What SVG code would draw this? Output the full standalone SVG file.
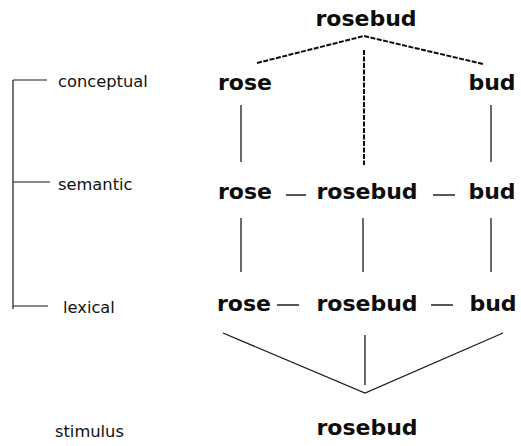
<svg xmlns="http://www.w3.org/2000/svg" width="521" height="446" viewBox="0 0 521 446">
  <style>
    .word { font-family: "DejaVu Sans", Verdana, sans-serif; font-weight: bold; font-size: 22px; fill: #0d0d0d; text-anchor: middle; }
    .label { font-family: "DejaVu Sans", Verdana, sans-serif; font-size: 16.3px; fill: #111; }
    .line { stroke: #1a1a1a; stroke-width: 1.3; fill: none; }
    .dash { stroke: #0d0d0d; stroke-width: 2; stroke-dasharray: 5 1.5; fill: none; }
    .link { stroke: #222; stroke-width: 1.4; fill: none; }
    .bracket { stroke: #1a1a1a; stroke-width: 1.2; fill: none; }
  </style>

  <!-- level bracket and labels -->
  <g id="levels">
    <path class="bracket" d="M13 80 V309 M13 80 H47 M13 182 H50 M13 306 H48"/>
  </g>
  <g id="label-conceptual"><text class="label" x="58" y="87">conceptual</text></g>
  <g id="label-semantic"><text class="label" x="58" y="190">semantic</text></g>
  <g id="label-lexical"><text class="label" x="63" y="313">lexical</text></g>
  <g id="label-stimulus"><text class="label" x="55" y="437">stimulus</text></g>

  <!-- connectors -->
  <g id="connectors">
    <path class="dash" d="M257 63 L364 36 L483 64"/>
    <path class="dash" d="M364 50 V165"/>
    <path class="line" d="M241 105 V162 M491 105 V162"/>
    <path class="line" d="M241 218 V272 M363 218 V272 M491 218 V272"/>
    <path class="link" d="M286 195 H306 M433 195 H455"/>
    <path class="link" d="M277 305 H299 M431 305 H453"/>
    <path class="line" stroke-width="1.6" d="M223 333 L365 393 L503 333 M365 335 V385"/>
  </g>

  <!-- conceptual level -->
  <g id="concept-rosebud"><text class="word" x="366" y="26">rosebud</text></g>
  <g id="concept-rose"><text class="word" x="245" y="90">rose</text></g>
  <g id="concept-bud"><text class="word" x="492" y="90">bud</text></g>

  <!-- semantic level -->
  <g id="sem-rose"><text class="word" x="245" y="199">rose</text></g>
  <g id="sem-rosebud"><text class="word" x="367" y="199">rosebud</text></g>
  <g id="sem-bud"><text class="word" x="492" y="199">bud</text></g>

  <!-- lexical level -->
  <g id="lex-rose"><text class="word" x="244" y="311">rose</text></g>
  <g id="lex-rosebud"><text class="word" x="367" y="311">rosebud</text></g>
  <g id="lex-bud"><text class="word" x="493" y="311">bud</text></g>

  <!-- stimulus -->
  <g id="stimulus-rosebud"><text class="word" x="367" y="435">rosebud</text></g>
</svg>
